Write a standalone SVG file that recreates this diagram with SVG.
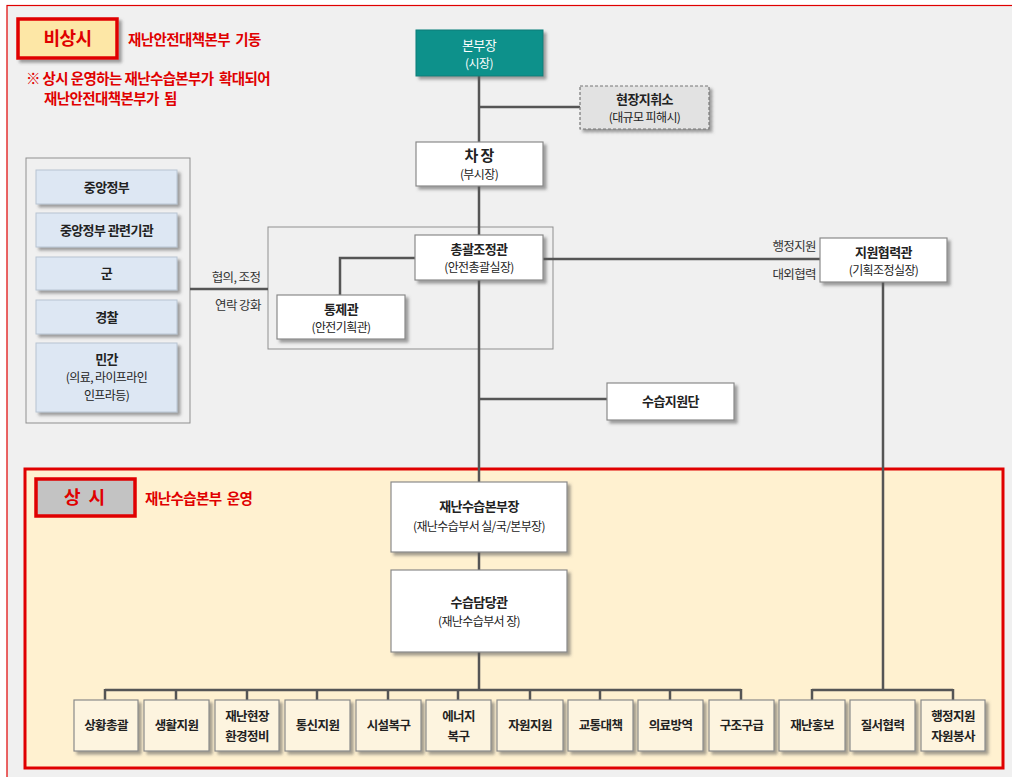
<svg xmlns="http://www.w3.org/2000/svg" width="1012" height="777" viewBox="0 0 1012 777">
<defs>
<filter id="sh" x="-10%" y="-10%" width="130%" height="140%">
<feDropShadow dx="3" dy="3" stdDeviation="1.5" flood-color="#555" flood-opacity="0.55"/>
</filter>
<style>
text{font-family:"Noto Sans CJK KR","Noto Sans",sans-serif;text-anchor:middle;fill:#222;letter-spacing:-0.6px}
.t{font-size:13px;font-weight:700}
.s{font-size:12px}
.w{fill:#fff}
.red{fill:#e00000;text-anchor:start;font-size:14.5px;font-weight:700;white-space:pre}
.lbl{font-size:12.5px;fill:#333}
.node{fill:#fff;stroke:#8a8a8a;stroke-width:1.2;filter:url(#sh)}
.blue{fill:#dde7f3;stroke:#b8c4d2;stroke-width:1;filter:url(#sh)}
.cream{fill:#fdf4df;stroke:#8a8a8a;stroke-width:1.2;filter:url(#sh)}
.b{font-size:12.5px;font-weight:700}
.ln{stroke:#555;stroke-width:2.5;fill:none}
.thin{stroke:#8f8f8f;stroke-width:1;fill:none}
</style>
</defs>
<rect x="0" y="0" width="1012" height="777" fill="#ffffff"/>
<rect x="7" y="5.5" width="1012" height="780" fill="#f0f0f0" stroke="#e00000" stroke-width="1.2"/>

<g id="sangsi-area">
<rect x="25" y="469" width="978" height="299" fill="#fff1d0" stroke="#e00000" stroke-width="3"/>
</g>

<rect x="26" y="158" width="164" height="265" class="thin"/>
<rect x="268" y="227" width="285" height="122" class="thin"/>

<g id="connectors">
<line x1="479" y1="76" x2="479" y2="690" class="ln"/>
<line x1="479" y1="107" x2="580" y2="107" class="ln"/>
<polyline points="415,258 340,258 340,295" class="ln"/>
<line x1="543" y1="259" x2="820" y2="259" class="ln"/>
<line x1="479" y1="399" x2="607" y2="399" class="ln"/>
<line x1="190" y1="289" x2="268" y2="289" class="ln"/>
<line x1="883" y1="282" x2="883" y2="690" class="ln"/>
<line x1="105" y1="690" x2="741" y2="690" class="ln"/>
<line x1="105" y1="689" x2="105" y2="700" class="ln"/>
<line x1="176" y1="689" x2="176" y2="700" class="ln"/>
<line x1="247" y1="689" x2="247" y2="700" class="ln"/>
<line x1="317" y1="689" x2="317" y2="700" class="ln"/>
<line x1="388" y1="689" x2="388" y2="700" class="ln"/>
<line x1="458" y1="689" x2="458" y2="700" class="ln"/>
<line x1="530" y1="689" x2="530" y2="700" class="ln"/>
<line x1="600" y1="689" x2="600" y2="700" class="ln"/>
<line x1="670" y1="689" x2="670" y2="700" class="ln"/>
<line x1="741" y1="689" x2="741" y2="700" class="ln"/>
<line x1="812" y1="690" x2="953" y2="690" class="ln"/>
<line x1="812" y1="689" x2="812" y2="700" class="ln"/>
<line x1="953" y1="689" x2="953" y2="700" class="ln"/>
<text x="236" y="282" class="lbl">협의, 조정</text>
<text x="238" y="310" class="lbl">연락 강화</text>
<text x="816" y="251" class="lbl" style="text-anchor:end">행정지원</text>
<text x="816" y="279" class="lbl" style="text-anchor:end">대외협력</text>
</g>

<g id="bisangsi">
<rect x="18" y="19" width="99" height="39" fill="#fde7a6" stroke="#e00000" stroke-width="3.5" filter="url(#sh)"/>
<text x="67.5" y="45" style="font-size:18px;font-weight:700;fill:#e00000">비상시</text>
<text x="128" y="45" class="red">재난안전대책본부  기동</text>
<text x="26" y="84" class="red">※ 상시 운영하는 재난수습본부가  확대되어</text>
<text x="44" y="104" class="red">재난안전대책본부가  됨</text>
</g>

<g id="bonbujang">
<rect x="416" y="30" width="127" height="46" fill="#0d918b" stroke="#0b7d78" stroke-width="1" filter="url(#sh)"/>
<text x="479" y="50" class="w" style="font-size:13px">본부장</text>
<text x="479" y="68" class="s w">(시장)</text>
</g>

<g id="hyeonjang">
<rect x="580" y="86" width="129" height="43" fill="#e2e2e2" stroke="#777" stroke-width="1.2" stroke-dasharray="3,2" filter="url(#sh)"/>
<text x="644.5" y="104" class="t">현장지휘소</text>
<text x="644.5" y="122" class="s">(대규모 피해시)</text>
</g>

<g id="chajang">
<rect x="416" y="142" width="127" height="44" class="node"/>
<text x="479" y="161" style="font-size:15px;font-weight:700">차 장</text>
<text x="479" y="179" class="s">(부시장)</text>
</g>

<g id="chonggwal">
<rect x="415" y="235" width="128" height="45" class="node"/>
<text x="479" y="254" class="t">총괄조정관</text>
<text x="479" y="272" class="s">(안전총괄실장)</text>
</g>

<g id="tongje">
<rect x="277" y="295" width="128" height="44" class="node"/>
<text x="341" y="314" class="t">통제관</text>
<text x="341" y="332" class="s">(안전기획관)</text>
</g>

<g id="jiwon">
<rect x="820" y="238" width="127" height="44" class="node"/>
<text x="883.5" y="257" class="t">지원협력관</text>
<text x="883.5" y="275" class="s">(기획조정실장)</text>
</g>

<g id="susupjiwondan">
<rect x="607" y="383" width="127" height="37" class="node"/>
<text x="670.5" y="406" class="t">수습지원단</text>
</g>

<g id="left-orgs">
<rect x="36" y="170" width="141" height="34" class="blue"/>
<text x="106.5" y="192" class="t">중앙정부</text>
<rect x="36" y="213" width="141" height="34" class="blue"/>
<text x="106.5" y="235" class="t">중앙정부 관련기관</text>
<rect x="36" y="257" width="141" height="33" class="blue"/>
<text x="106.5" y="278" class="t">군</text>
<rect x="36" y="300" width="141" height="34" class="blue"/>
<text x="106.5" y="322" class="t">경찰</text>
<rect x="36" y="343" width="141" height="69" class="blue"/>
<text x="106.5" y="364" class="t">민간</text>
<text x="106.5" y="382" class="s">(의료, 라이프라인</text>
<text x="106.5" y="400" class="s">인프라등)</text>
</g>

<g id="sangsi">
<rect x="36" y="479" width="99" height="37" fill="#c3c3c3" stroke="#e00000" stroke-width="3.5"/>
<text x="85.5" y="504" style="font-size:18px;font-weight:700;fill:#e00000;letter-spacing:2px">상 시</text>
<text x="145" y="504" class="red">재난수습본부  운영</text>
</g>

<g id="susupbonbujang">
<rect x="391" y="482" width="176" height="70" class="node"/>
<text x="479" y="511" class="t">재난수습본부장</text>
<text x="479" y="531" class="s">(재난수습부서 실/국/본부장)</text>
</g>

<g id="susupdamdang">
<rect x="391" y="570" width="176" height="82" class="node"/>
<text x="479" y="607" class="t">수습담당관</text>
<text x="479" y="626" class="s">(재난수습부서 장)</text>
</g>

<g id="f1"><rect x="74" y="700" width="64" height="51" class="cream"/><text x="106" y="730" class="b">상황총괄</text></g>
<g id="f2"><rect x="144" y="700" width="65" height="51" class="cream"/><text x="176.5" y="730" class="b">생활지원</text></g>
<g id="f3"><rect x="215" y="700" width="64" height="51" class="cream"/><text x="247" y="721" class="b">재난현장</text><text x="247" y="741" class="b">환경정비</text></g>
<g id="f4"><rect x="285" y="700" width="65" height="51" class="cream"/><text x="317.5" y="730" class="b">통신지원</text></g>
<g id="f5"><rect x="356" y="700" width="65" height="51" class="cream"/><text x="388.5" y="730" class="b">시설복구</text></g>
<g id="f6"><rect x="426" y="700" width="65" height="51" class="cream"/><text x="458.5" y="721" class="b">에너지</text><text x="458.5" y="741" class="b">복구</text></g>
<g id="f7"><rect x="497" y="700" width="66" height="51" class="cream"/><text x="530" y="730" class="b">자원지원</text></g>
<g id="f8"><rect x="568" y="700" width="65" height="51" class="cream"/><text x="600.5" y="730" class="b">교통대책</text></g>
<g id="f9"><rect x="638" y="700" width="65" height="51" class="cream"/><text x="670.5" y="730" class="b">의료방역</text></g>
<g id="f10"><rect x="709" y="700" width="65" height="51" class="cream"/><text x="741.5" y="730" class="b">구조구급</text></g>
<g id="f11"><rect x="779" y="700" width="66" height="51" class="cream"/><text x="812" y="730" class="b">재난홍보</text></g>
<g id="f12"><rect x="850" y="700" width="65" height="51" class="cream"/><text x="882.5" y="730" class="b">질서협력</text></g>
<g id="f13"><rect x="921" y="700" width="64" height="51" class="cream"/><text x="953" y="721" class="b">행정지원</text><text x="953" y="741" class="b">자원봉사</text></g>
</svg>
